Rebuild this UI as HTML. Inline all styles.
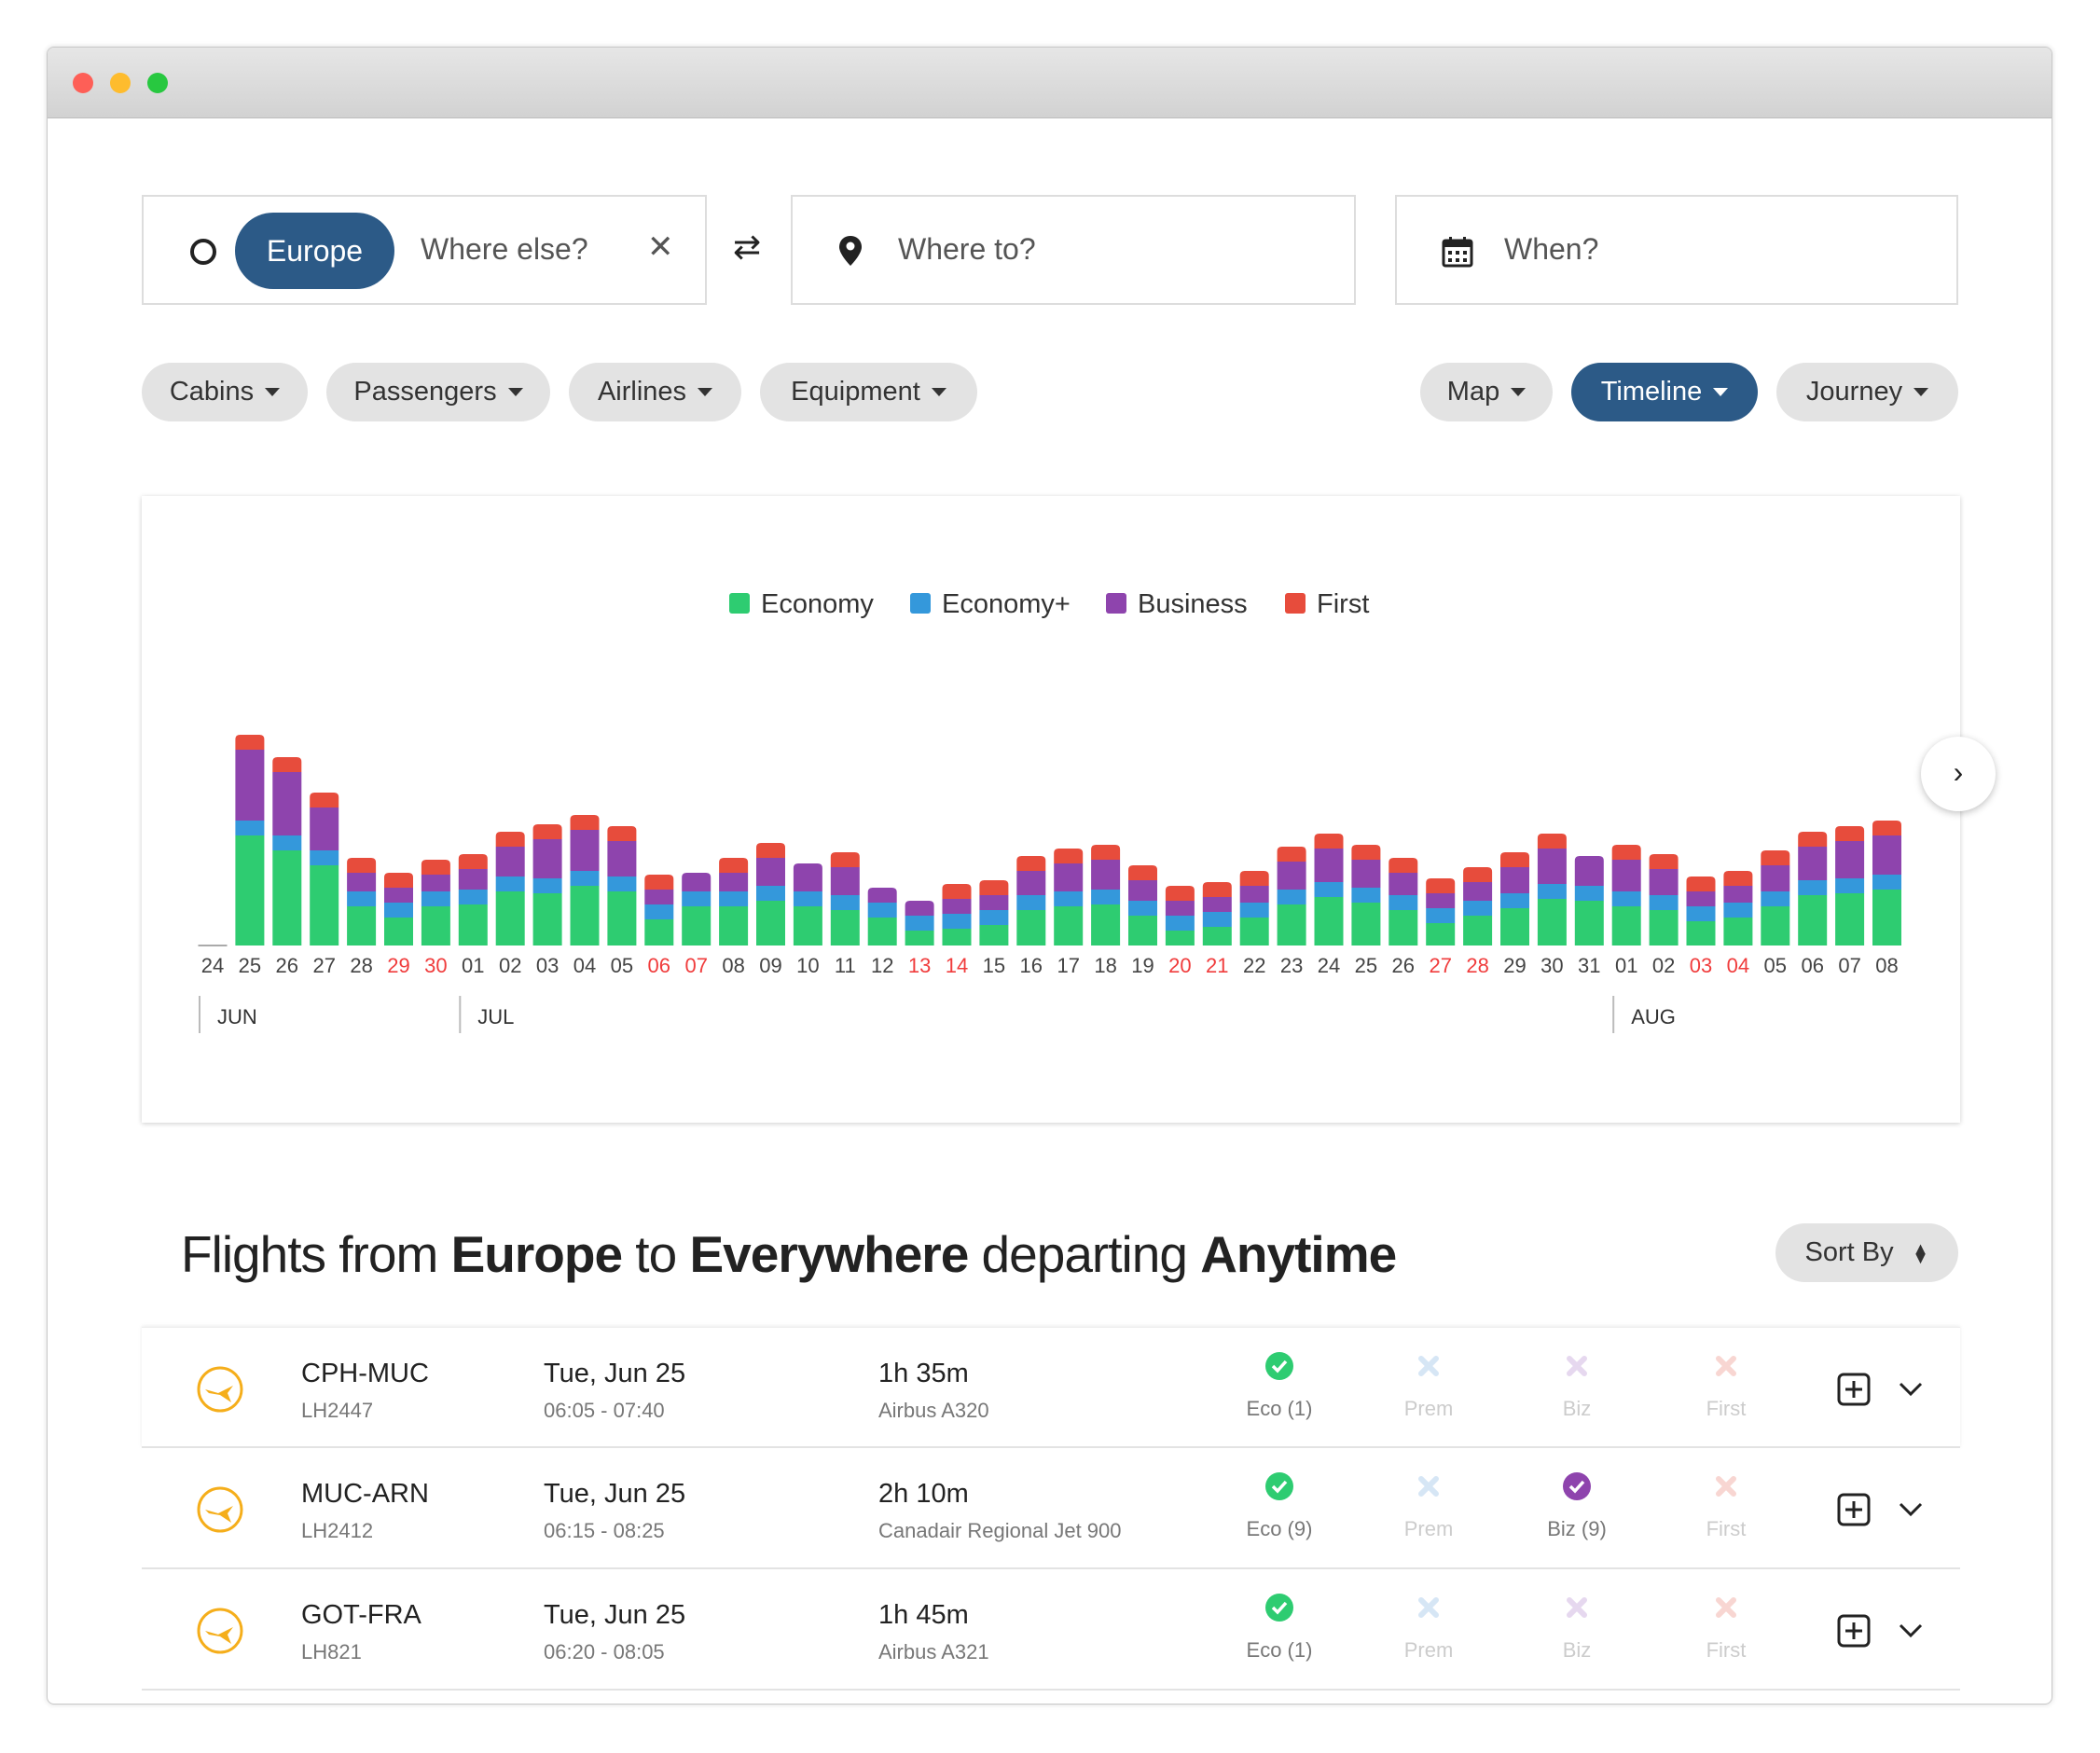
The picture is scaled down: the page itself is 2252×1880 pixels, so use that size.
<!DOCTYPE html>
<html><head><meta charset="utf-8">
<style>
*{box-sizing:border-box;margin:0;padding:0}
body{width:2252px;height:1880px;background:#fff;font-family:"Liberation Sans",sans-serif;position:relative;overflow:hidden;color:#333}
.abs{position:absolute}
.win{left:50px;top:50px;width:2151px;height:1778px;border:1px solid #c8c8c8;border-radius:8px;overflow:hidden;background:#fff;box-shadow:0 0 6px rgba(0,0,0,.15)}
.bar{left:0;top:0;width:100%;height:76px;background:linear-gradient(#e6e6e6,#d2d2d2);border-bottom:1px solid #bdbdbd}
.dot{width:22px;height:22px;border-radius:50%;top:27px}
.box{border:2px solid #ddd;background:#fff;height:118px;top:158px}
.ph{font-size:32px;color:#555;top:38px}
.pill{top:338px;height:63px;border-radius:32px;background:#e3e3e3;font-size:29px;color:#333;display:flex;align-items:center;justify-content:center;gap:12px}
.pill .car{width:0;height:0;border-left:8px solid transparent;border-right:8px solid transparent;border-top:9px solid #333}
.card{left:101px;top:481px;width:1950px;height:672px;background:#fff;box-shadow:0 1px 5px rgba(0,0,0,.2)}
.row{left:101px;width:1950px;height:130px;border-bottom:2px solid #e3e3e3;background:#fff}
.t1{font-size:29px;color:#222;top:33px}
.t2{font-size:22px;color:#777;top:76px}
.cab{font-size:22px;color:#777;top:74px;width:120px;text-align:center}
.cab.off{color:#ccc}
.ic{top:26px;width:30px;height:30px}
</style></head><body>
<div class="abs win">
 <div class="abs bar">
  <div class="abs dot" style="left:27px;background:#fe5f57"></div>
  <div class="abs dot" style="left:67px;background:#febc2e"></div>
  <div class="abs dot" style="left:107px;background:#28c840"></div>
 </div>
 <div class="abs box" style="left:101px;width:606px">
  <div class="abs" style="left:50px;top:45px;width:28px;height:28px;border:4px solid #222;border-radius:50%"></div>
  <div class="abs" style="left:98px;top:17px;width:171px;height:82px;border-radius:41px;background:#2c5a87;color:#fff;font-size:32px;display:flex;align-items:center;justify-content:center">Europe</div>
  <div class="abs ph" style="left:297px">Where else?</div>
  <div class="abs" style="left:540px;top:34px;font-size:34px;color:#555">✕</div>
 </div>
 <div class="abs" style="left:735px;top:193px;font-size:36px;color:#222">⇄</div>
 <div class="abs box" style="left:797px;width:606px">
  <svg class="abs" style="left:50px;top:42px" width="24" height="32" viewBox="0 0 24 32"><path d="M12 0C5 0 0 5 0 12c0 8 12 20 12 20s12-12 12-20C24 5 19 0 12 0z" fill="#222"/><circle cx="12" cy="11" r="4.5" fill="#fff"/></svg>
  <div class="abs ph" style="left:113px">Where to?</div>
 </div>
 <div class="abs box" style="left:1445px;width:604px">
  <svg class="abs" style="left:48px;top:42px" width="34" height="34" viewBox="0 0 34 34"><rect x="2" y="5" width="30" height="27" rx="2" fill="none" stroke="#222" stroke-width="3"/><rect x="2" y="5" width="30" height="7" fill="#222"/><rect x="8" y="1" width="3" height="7" fill="#222"/><rect x="23" y="1" width="3" height="7" fill="#222"/><g fill="#222"><rect x="7" y="16" width="4" height="4"/><rect x="15" y="16" width="4" height="4"/><rect x="23" y="16" width="4" height="4"/><rect x="7" y="24" width="4" height="4"/><rect x="15" y="24" width="4" height="4"/><rect x="23" y="24" width="4" height="4"/></g></svg>
  <div class="abs ph" style="left:115px">When?</div>
 </div>
 <div class="abs pill" style="left:101px;width:178px">Cabins<span class="car"></span></div>
 <div class="abs pill" style="left:299px;width:240px">Passengers<span class="car"></span></div>
 <div class="abs pill" style="left:559px;width:185px">Airlines<span class="car"></span></div>
 <div class="abs pill" style="left:764px;width:233px">Equipment<span class="car"></span></div>
 <div class="abs pill" style="left:1472px;width:142px">Map<span class="car"></span></div>
 <div class="abs pill" style="left:1634px;width:200px;background:#2c5a87;color:#fff">Timeline<span class="car" style="border-top-color:#fff"></span></div>
 <div class="abs pill" style="left:1854px;width:195px">Journey<span class="car"></span></div>
 <div class="abs card">
  <svg id="chart" class="abs" style="left:0;top:0" width="1950" height="672"></svg>
 </div>
 <div class="abs" style="left:2009px;top:739px;width:80px;height:80px;border-radius:50%;background:#fff;box-shadow:0 2px 8px rgba(0,0,0,.25);font-size:32px;text-align:center;line-height:76px;color:#222">›</div>
 <div class="abs" style="left:143px;top:1262px;font-size:55px;color:#222;letter-spacing:-1px;white-space:nowrap">Flights from <b>Europe</b> to <b>Everywhere</b> departing <b>Anytime</b></div>
 <div class="abs pill" style="left:1853px;top:1261px;width:196px;gap:20px">Sort By<span style="font-size:18px;line-height:10px;text-align:center">▲<br>▼</span></div>
 <div id="rows"></div>
</div>
<script>
const dates=["24","25","26","27","28","29","30","01","02","03","04","05","06","07","08","09","10","11","12","13","14","15","16","17","18","19","20","21","22","23","24","25","26","27","28","29","30","31","01","02","03","04","05","06","07","08"];
const weekend=[0,0,0,0,0,1,1,0,0,0,0,0,1,1,0,0,0,0,0,1,1,0,0,0,0,0,1,1,0,0,0,0,0,1,1,0,0,0,0,0,1,1,0,0,0,0];
const economy=[0,59,51,43,21,15,21,22,29,28,32,29,14,21,21,24,21,19,15,8,9,11,19,21,22,16,8,10,15,22,26,23,19,12,16,20,25,24,21,19,13,15,21,27,28,30];
const economyPlus=[0,8,8,8,8,8,8,8,8,8,8,8,8,8,8,8,8,8,8,8,8,8,8,8,8,8,8,8,8,8,8,8,8,8,8,8,8,8,8,8,8,8,8,8,8,8];
const business=[0,38,34,23,10,8,9,11,16,21,22,19,8,10,10,15,15,15,8,8,8,8,13,15,16,11,8,8,9,15,18,15,12,8,10,14,19,16,17,14,8,9,14,18,20,21];
const first=[0,8,8,8,8,8,8,8,8,8,8,8,8,0,8,8,0,8,0,0,8,8,8,8,8,8,8,8,8,8,8,8,8,8,8,8,8,0,8,8,8,8,8,8,8,8];
const months=["JUN","JUL","AUG"];
const monthStart=[0,7,38];
const legendNames=["Economy","Economy+","Business","First"];
const colors=["#2ecc71","#3498db","#8e44ad","#e74c3c"];
const NS="http://www.w3.org/2000/svg";
const svg=document.getElementById('chart');
const baseY=1013-531, x0=227-151, step=39.9, bw=31, unit=2;
function xs(i){return x0+i*step;}
function ys(v){return baseY-v*unit;}
function mk(tag,a){const e=document.createElementNS(NS,tag);for(const k in a)e.setAttribute(k,a[k]);svg.appendChild(e);return e;}
const lx=[630,824,1034,1226];
legendNames.forEach((n,i)=>{
 const r=mk('rect',{x:lx[i],y:104,width:22,height:22,rx:3,fill:colors[i]});
 
 
 const t=mk('text',{x:lx[i]+34,y:125,'font-size':29,fill:'#333','font-family':'Liberation Sans'});
 t.textContent=n;
 
 
});
dates.forEach((d,i)=>{
 const series=[economy[i],economyPlus[i],business[i],first[i]];
 const total=series.reduce((a,b)=>a+b,0);
 const cx=xs(i);
 if(total===0){
  const l=mk('rect',{x:cx-bw/2,y:baseY-1,width:bw,height:2,fill:'#aaa'});
  
  
 }
 let acc=0,last=-1;series.forEach((v,k)=>{if(v>0)last=k;});
 series.forEach((v,k)=>{
  if(v<=0)return;
  const y1=ys(acc+v),y2=ys(acc);acc+=v;
  let el;
  if(k===last){
   const r=5,x=cx-bw/2,w=bw;
   el=mk('path',{d:`M${x} ${y2}V${y1+r}Q${x} ${y1} ${x+r} ${y1}H${x+w-r}Q${x+w} ${y1} ${x+w} ${y1+r}V${y2}Z`,fill:colors[k]});
  } else el=mk('rect',{x:cx-bw/2,y:y1,width:bw,height:y2-y1,fill:colors[k]});
  
  
 });
 const t=mk('text',{x:cx,y:baseY+29,'font-size':22,'text-anchor':'middle',fill:weekend[i]?'#f03c3c':'#444','font-family':'Liberation Sans'});
 t.textContent=d;
 
 
});
months.forEach((m,j)=>{
 const x=xs(monthStart[j])-15;
 const l=mk('rect',{x:x,y:baseY+54,width:2,height:40,fill:'#bbb'});
 
 
 const t=mk('text',{x:x+20,y:baseY+84,'font-size':22,fill:'#333','font-family':'Liberation Sans'});
 t.textContent=m;
 
 
});
const rowsData=[
 ["CPH-MUC","LH2447","Tue, Jun 25","06:05 - 07:40","1h 35m","Airbus A320",["Eco (1)",0,0,0]],
 ["MUC-ARN","LH2412","Tue, Jun 25","06:15 - 08:25","2h 10m","Canadair Regional Jet 900",["Eco (9)",0,"Biz (9)",0]],
 ["GOT-FRA","LH821","Tue, Jun 25","06:20 - 08:05","1h 45m","Airbus A321",["Eco (1)",0,0,0]],
 ["","","","","","",[0,0,0,0]]
];
const cabNames=["Eco","Prem","Biz","First"];
const onCol=["#2ecc71","#3498db","#8e44ad","#e74c3c"];
const offCol=["#cde","#d6e6f5","#e6d8ef","#f8d6d2"];
const cabX=[1160,1320,1479,1639];
let html='';
rowsData.forEach((r,i)=>{
 const top=1372+i*130;
 html+=`<div class="abs row" style="top:${top}px;${i===0?'border-top:1px solid #eee;box-shadow:0 -1px 4px rgba(0,0,0,.08);':''}">`;
 if(r[0]){
 html+=`<svg class="abs" style="left:58px;top:40px" width="52" height="52" viewBox="0 0 52 52"><circle cx="26" cy="26" r="23" fill="none" stroke="#f5ae1b" stroke-width="3"/><path d="M10 26 L24 30 L40 22 L34 30 L38 40 L26 32 L14 30Z" fill="#f5ae1b"/></svg>
 <div class="abs t1" style="left:171px">${r[0]}</div>
 <div class="abs t2" style="left:171px">${r[1]}</div>
 <div class="abs t1" style="left:431px">${r[2]}</div>
 <div class="abs t2" style="left:431px">${r[3]}</div>
 <div class="abs t1" style="left:790px">${r[4]}</div>
 <div class="abs t2" style="left:790px">${r[5]}</div>`;
 r[6].forEach((c,k)=>{
  const cx=cabX[k];
  if(c){html+=`<svg class="abs ic" style="left:${cx+45}px" viewBox="0 0 30 30"><circle cx="15" cy="15" r="15" fill="${onCol[k]}"/><path d="M8 15l5 5 9-10" stroke="#fff" stroke-width="3.5" fill="none"/></svg><div class="abs cab" style="left:${cx}px">${c}</div>`;}
  else{html+=`<svg class="abs ic" style="left:${cx+45}px" viewBox="0 0 30 30"><path d="M7 7L23 23M23 7L7 23" stroke="${offCol[k]}" stroke-width="6" stroke-linecap="round"/></svg><div class="abs cab off" style="left:${cx}px">${cabNames[k]}</div>`;}
 });
 html+=`<svg class="abs" style="left:1818px;top:48px" width="36" height="36" viewBox="0 0 36 36"><rect x="2" y="2" width="32" height="32" rx="5" fill="none" stroke="#222" stroke-width="3"/><path d="M18 9V27M9 18H27" stroke="#222" stroke-width="3"/></svg>
 <svg class="abs" style="left:1884px;top:58px" width="26" height="16" viewBox="0 0 26 16"><path d="M2 2L13 13L24 2" stroke="#222" stroke-width="3" fill="none"/></svg>`;
 }
 html+='</div>';
});
document.getElementById('rows').outerHTML=html;
</script>
</body></html>
